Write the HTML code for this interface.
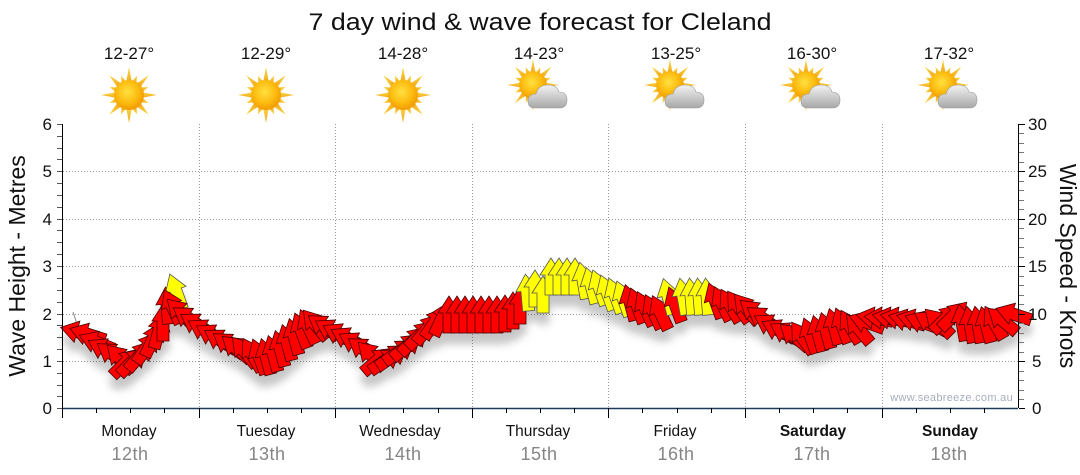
<!DOCTYPE html>
<html><head><meta charset="utf-8"><style>
html,body{margin:0;padding:0;background:#fff;}
svg{display:block;font-family:"Liberation Sans",sans-serif;}
</style></head><body>
<svg width="1080" height="475" viewBox="0 0 1080 475" xmlns="http://www.w3.org/2000/svg">
<defs>
<polygon id="a" points="0,-18 11,-1 6,-1 6,19 -6,19 -6,-1 -11,-1"/>
<radialGradient id="sg" cx="45%" cy="40%" r="60%"><stop offset="0" stop-color="#ffe040"/><stop offset="0.6" stop-color="#fcbc10"/><stop offset="1" stop-color="#f29a00"/></radialGradient>
<linearGradient id="rg" x1="0" y1="0" x2="0" y2="1"><stop offset="0" stop-color="#fbd84a"/><stop offset="1" stop-color="#f0a818"/></linearGradient>
<linearGradient id="cg" x1="0" y1="0" x2="0" y2="1"><stop offset="0" stop-color="#f2f2f2"/><stop offset="1" stop-color="#a8a8a8"/></linearGradient>
<g id="sun">
<g fill="url(#rg)">
<polygon points="0,-28 3,-12 -3,-12"/><polygon points="0,28 3,12 -3,12"/>
<polygon points="-28,0 -12,3 -12,-3"/><polygon points="28,0 12,3 12,-3"/>
<polygon points="0,-28 3,-12 -3,-12" transform="rotate(45)"/><polygon points="0,-28 3,-12 -3,-12" transform="rotate(135)"/>
<polygon points="0,-28 3,-12 -3,-12" transform="rotate(225)"/><polygon points="0,-28 3,-12 -3,-12" transform="rotate(315)"/>
<polygon points="0,-21 3,-12 -3,-12" transform="rotate(22.5)"/><polygon points="0,-21 3,-12 -3,-12" transform="rotate(67.5)"/>
<polygon points="0,-21 3,-12 -3,-12" transform="rotate(112.5)"/><polygon points="0,-21 3,-12 -3,-12" transform="rotate(157.5)"/>
<polygon points="0,-21 3,-12 -3,-12" transform="rotate(202.5)"/><polygon points="0,-21 3,-12 -3,-12" transform="rotate(247.5)"/>
<polygon points="0,-21 3,-12 -3,-12" transform="rotate(292.5)"/><polygon points="0,-21 3,-12 -3,-12" transform="rotate(337.5)"/>
</g>
<circle r="15" fill="url(#sg)"/>
</g>
<g id="pc">
<use href="#sun" transform="translate(-7,-8) scale(0.92)"/>
<g fill="url(#cg)" stroke="#9a9a9a" stroke-width="0.6">
<path d="M-5,15 Q-12,15 -12,8 Q-12,1 -4,1 Q-2,-8 8,-8 Q17,-8 19,-1 Q27,-1 27,7 Q27,15 19,15 Z"/>
</g>
</g>
<filter id="sh" x="-10%" y="-30%" width="120%" height="180%"><feDropShadow dx="0" dy="11" stdDeviation="4" flood-color="#000" flood-opacity="0.22"/></filter>
</defs>

<!-- title -->
<text x="540" y="30" font-size="24" text-anchor="middle" fill="#111" textLength="463" lengthAdjust="spacingAndGlyphs">7 day wind &amp; wave forecast for Cleland</text>

<!-- temps -->
<g font-size="17" fill="#111" text-anchor="middle">
<text x="129" y="59">12-27°</text>
<text x="266" y="59">12-29°</text>
<text x="403" y="59">14-28°</text>
<text x="539" y="59">14-23°</text>
<text x="676" y="59">13-25°</text>
<text x="812" y="59">16-30°</text>
<text x="949" y="59">17-32°</text>
</g>
<!-- icons -->
<use href="#sun" transform="translate(129,95)"/>
<use href="#sun" transform="translate(266,95)"/>
<use href="#sun" transform="translate(403,95)"/>
<use href="#pc" transform="translate(540,93)"/>
<use href="#pc" transform="translate(677,93)"/>
<use href="#pc" transform="translate(813,93)"/>
<use href="#pc" transform="translate(950,93)"/>

<!-- gridlines -->
<g stroke="#999" stroke-width="1" stroke-dasharray="1,2">
<line x1="63" y1="171.5" x2="1018" y2="171.5"/>
<line x1="63" y1="219.5" x2="1018" y2="219.5"/>
<line x1="63" y1="266.5" x2="1018" y2="266.5"/>
<line x1="63" y1="314.5" x2="1018" y2="314.5"/>
<line x1="63" y1="361.5" x2="1018" y2="361.5"/>
<line x1="199.5" y1="124" x2="199.5" y2="408"/>
<line x1="335.5" y1="124" x2="335.5" y2="408"/>
<line x1="472.5" y1="124" x2="472.5" y2="408"/>
<line x1="608.5" y1="124" x2="608.5" y2="408"/>
<line x1="745.5" y1="124" x2="745.5" y2="408"/>
<line x1="882.5" y1="124" x2="882.5" y2="408"/>
</g>

<!-- watermark -->
<text x="1013" y="401" font-size="11" fill="#a8aebc" text-anchor="end" letter-spacing="0.3">www.seabreeze.com.au</text>

<!-- faint line -->
<line x1="73" y1="312" x2="79" y2="330" stroke="#888" stroke-width="1"/>

<!-- arrows -->
<g filter="url(#sh)" stroke="#4a0000" stroke-width="0.8" stroke-linejoin="miter">
<g fill="#ff0000">
<use href="#a" transform="translate(78,332) rotate(-75)"/>
<use href="#a" transform="translate(87,334) rotate(-72)"/>
<use href="#a" transform="translate(96,342) rotate(-68)"/>
<use href="#a" transform="translate(104,349) rotate(-62)"/>
<use href="#a" transform="translate(112,354) rotate(-55)"/>
<use href="#a" transform="translate(120,358) rotate(-45)"/>
<use href="#a" transform="translate(126,362) rotate(45)"/>
<use href="#a" transform="translate(133,361) rotate(45)"/>
<use href="#a" transform="translate(140,355) rotate(40)"/>
<use href="#a" transform="translate(147,347) rotate(35)"/>
<use href="#a" transform="translate(153,339) rotate(25)"/>
<use href="#a" transform="translate(159,330) rotate(15)"/>
<use href="#a" transform="translate(163,322) rotate(0)"/>
<use href="#a" transform="translate(167,305) rotate(-5)"/>
</g>
<use href="#a" transform="translate(176,291) rotate(-20)" fill="#ffff00" stroke="#555"/>
<g fill="#ff0000">
<use href="#a" transform="translate(172,306) rotate(-25)"/>
<use href="#a" transform="translate(180,312) rotate(-45)"/>
<use href="#a" transform="translate(188,318) rotate(-55)"/>
<use href="#a" transform="translate(196,324) rotate(-58)"/>
<use href="#a" transform="translate(204,330) rotate(-60)"/>
<use href="#a" transform="translate(212,335) rotate(-60)"/>
<use href="#a" transform="translate(220,340) rotate(-58)"/>
<use href="#a" transform="translate(228,344) rotate(-55)"/>
<use href="#a" transform="translate(236,348) rotate(-50)"/>
<use href="#a" transform="translate(244,351) rotate(-40)"/>
<use href="#a" transform="translate(252,354) rotate(-30)"/>
<use href="#a" transform="translate(259,356) rotate(-20)"/>
<use href="#a" transform="translate(266,356) rotate(-15)"/>
<use href="#a" transform="translate(273,353) rotate(-15)"/>
<use href="#a" transform="translate(280,348) rotate(-15)"/>
<use href="#a" transform="translate(287,342) rotate(-15)"/>
<use href="#a" transform="translate(294,336) rotate(-15)"/>
<use href="#a" transform="translate(301,330) rotate(-20)"/>
<use href="#a" transform="translate(308,326) rotate(-25)"/>
<use href="#a" transform="translate(315,324) rotate(-40)"/>
<use href="#a" transform="translate(323,326) rotate(-55)"/>
<use href="#a" transform="translate(331,330) rotate(-60)"/>
<use href="#a" transform="translate(339,334) rotate(-62)"/>
<use href="#a" transform="translate(347,338) rotate(-62)"/>
<use href="#a" transform="translate(355,343) rotate(-60)"/>
<use href="#a" transform="translate(363,349) rotate(-55)"/>
<use href="#a" transform="translate(371,355) rotate(-45)"/>
<use href="#a" transform="translate(378,360) rotate(50)"/>
<use href="#a" transform="translate(386,360) rotate(55)"/>
<use href="#a" transform="translate(393,356) rotate(55)"/>
<use href="#a" transform="translate(400,351) rotate(55)"/>
<use href="#a" transform="translate(407,346) rotate(50)"/>
<use href="#a" transform="translate(414,340) rotate(45)"/>
<use href="#a" transform="translate(421,334) rotate(45)"/>
<use href="#a" transform="translate(428,328) rotate(40)"/>
<use href="#a" transform="translate(435,322) rotate(35)"/>
<use href="#a" transform="translate(442,318) rotate(25)"/>
<use href="#a" transform="translate(449,314) rotate(0)"/>
<use href="#a" transform="translate(457,314) rotate(0)"/>
<use href="#a" transform="translate(465,314) rotate(0)"/>
<use href="#a" transform="translate(473,314) rotate(0)"/>
<use href="#a" transform="translate(481,314) rotate(0)"/>
<use href="#a" transform="translate(489,314) rotate(0)"/>
<use href="#a" transform="translate(497,314) rotate(0)"/>
<use href="#a" transform="translate(505,313) rotate(0)"/>
<use href="#a" transform="translate(513,310) rotate(0)"/>
<use href="#a" transform="translate(520,305) rotate(0)"/>
</g>
<g fill="#ffff00" stroke="#555">
<use href="#a" transform="translate(527,292) rotate(-5)"/>
<use href="#a" transform="translate(535,288) rotate(0)"/>
<use href="#a" transform="translate(543,294) rotate(0)"/>
<use href="#a" transform="translate(551,276) rotate(0)"/>
<use href="#a" transform="translate(559,276) rotate(0)"/>
<use href="#a" transform="translate(567,276) rotate(0)"/>
<use href="#a" transform="translate(575,276) rotate(0)"/>
<use href="#a" transform="translate(583,280) rotate(-10)"/>
<use href="#a" transform="translate(591,285) rotate(-15)"/>
<use href="#a" transform="translate(599,287) rotate(-20)"/>
<use href="#a" transform="translate(607,292) rotate(-20)"/>
<use href="#a" transform="translate(615,295) rotate(-20)"/>
<use href="#a" transform="translate(623,298) rotate(-20)"/>
</g>
<g fill="#ff0000">
<use href="#a" transform="translate(630,302) rotate(-15)"/>
<use href="#a" transform="translate(637,305) rotate(-20)"/>
<use href="#a" transform="translate(645,308) rotate(-25)"/>
<use href="#a" transform="translate(653,311) rotate(-25)"/>
<use href="#a" transform="translate(660,312) rotate(-25)"/>
</g>
<use href="#a" transform="translate(668,296) rotate(-15)" fill="#ffff00" stroke="#555"/>
<use href="#a" transform="translate(675,304) rotate(-20)" fill="#ff0000"/>
<g fill="#ffff00" stroke="#555">
<use href="#a" transform="translate(683,296) rotate(-10)"/>
<use href="#a" transform="translate(691,296) rotate(-5)"/>
<use href="#a" transform="translate(699,296) rotate(-5)"/>
<use href="#a" transform="translate(707,296) rotate(-5)"/>
</g>
<g fill="#ff0000">
<use href="#a" transform="translate(715,300) rotate(-20)"/>
<use href="#a" transform="translate(722,303) rotate(-25)"/>
<use href="#a" transform="translate(730,305) rotate(-30)"/>
<use href="#a" transform="translate(738,306) rotate(-35)"/>
<use href="#a" transform="translate(746,308) rotate(-40)"/>
<use href="#a" transform="translate(754,312) rotate(-50)"/>
<use href="#a" transform="translate(762,318) rotate(-55)"/>
<use href="#a" transform="translate(770,325) rotate(-60)"/>
<use href="#a" transform="translate(778,330) rotate(-62)"/>
<use href="#a" transform="translate(786,333) rotate(-60)"/>
<use href="#a" transform="translate(794,336) rotate(-50)"/>
<use href="#a" transform="translate(802,337) rotate(-35)"/>
<use href="#a" transform="translate(810,335) rotate(-20)"/>
<use href="#a" transform="translate(818,333) rotate(-15)"/>
<use href="#a" transform="translate(826,330) rotate(-15)"/>
<use href="#a" transform="translate(834,326) rotate(-15)"/>
<use href="#a" transform="translate(842,325) rotate(-20)"/>
<use href="#a" transform="translate(850,326) rotate(-30)"/>
<use href="#a" transform="translate(858,328) rotate(-40)"/>
<use href="#a" transform="translate(866,322) rotate(-70)"/>
<use href="#a" transform="translate(874,318) rotate(-80)"/>
<use href="#a" transform="translate(882,318) rotate(-85)"/>
<use href="#a" transform="translate(890,318) rotate(-80)"/>
<use href="#a" transform="translate(898,318) rotate(-80)"/>
<use href="#a" transform="translate(906,320) rotate(-75)"/>
<use href="#a" transform="translate(914,320) rotate(-75)"/>
<use href="#a" transform="translate(922,322) rotate(-70)"/>
<use href="#a" transform="translate(930,322) rotate(-60)"/>
<use href="#a" transform="translate(938,322) rotate(-45)"/>
<use href="#a" transform="translate(946,318) rotate(45)"/>
<use href="#a" transform="translate(954,315) rotate(45)"/>
<use href="#a" transform="translate(962,322) rotate(-10)"/>
<use href="#a" transform="translate(970,324) rotate(-10)"/>
<use href="#a" transform="translate(978,324) rotate(-10)"/>
<use href="#a" transform="translate(986,324) rotate(-15)"/>
<use href="#a" transform="translate(994,322) rotate(-30)"/>
<use href="#a" transform="translate(1002,320) rotate(-50)"/>
<use href="#a" transform="translate(1013,314) rotate(-72)"/>
</g>
</g>

<!-- left axis -->
<line x1="62.5" y1="124" x2="62.5" y2="418" stroke="#000" stroke-width="1"/>
<g stroke="#555" stroke-width="1">
<path d="M57,124.5H62 M57,136.5H62 M57,148.5H62 M57,159.5H62 M57,171.5H62 M57,183.5H62 M57,195.5H62 M57,207.5H62 M57,219.5H62 M57,230.5H62 M57,242.5H62 M57,254.5H62 M57,266.5H62 M57,278.5H62 M57,290.5H62 M57,302.5H62 M57,314.5H62 M57,325.5H62 M57,337.5H62 M57,349.5H62 M57,361.5H62 M57,373.5H62 M57,385.5H62 M57,396.5H62 M57,408.5H62"/>
</g>
<g font-size="17" fill="#111" text-anchor="end">
<text x="52" y="130">6</text>
<text x="52" y="177">5</text>
<text x="52" y="225">4</text>
<text x="52" y="272">3</text>
<text x="52" y="320">2</text>
<text x="52" y="367">1</text>
<text x="52" y="414">0</text>
</g>
<text transform="translate(25,266) rotate(-90)" font-size="23" text-anchor="middle" fill="#111">Wave Height - Metres</text>

<!-- right axis -->
<line x1="1018.5" y1="124" x2="1018.5" y2="408" stroke="#000" stroke-width="1"/>
<g stroke="#777" stroke-width="1">
<path d="M1019,133.5H1024 M1019,143.5H1024 M1019,152.5H1024 M1019,162.5H1024 M1019,181.5H1024 M1019,190.5H1024 M1019,200.5H1024 M1019,209.5H1024 M1019,228.5H1024 M1019,238.5H1024 M1019,247.5H1024 M1019,257.5H1024 M1019,276.5H1024 M1019,285.5H1024 M1019,295.5H1024 M1019,304.5H1024 M1019,323.5H1024 M1019,333.5H1024 M1019,342.5H1024 M1019,352.5H1024 M1019,371.5H1024 M1019,380.5H1024 M1019,390.5H1024 M1019,399.5H1024"/>
</g>
<g stroke="#000" stroke-width="1">
<path d="M1019,124.5H1025 M1019,171.5H1025 M1019,219.5H1025 M1019,266.5H1025 M1019,314.5H1025 M1019,361.5H1025 M1019,408.5H1025"/>
</g>
<g font-size="17" fill="#111" text-anchor="start">
<text x="1028" y="130">30</text>
<text x="1028" y="177">25</text>
<text x="1028" y="225">20</text>
<text x="1028" y="272">15</text>
<text x="1028" y="320">10</text>
<text x="1032" y="367">5</text>
<text x="1032" y="414">0</text>
</g>
<text transform="translate(1060,266) rotate(90)" font-size="23" text-anchor="middle" fill="#111">Wind Speed - Knots</text>

<!-- bottom axis -->
<line x1="62" y1="408.5" x2="1018" y2="408.5" stroke="#1d3c5a" stroke-width="1.5"/>
<g stroke="#000" stroke-width="1">
<path d="M62.5,408V418 M199.5,408V418 M335.5,408V418 M472.5,408V418 M608.5,408V418 M745.5,408V418 M882.5,408V418"/>
<path d="M96.5,408V413 M130.5,408V413 M164.5,408V413 M233.5,408V413 M267.5,408V413 M301.5,408V413 M369.5,408V413 M403.5,408V413 M438.5,408V413 M506.5,408V413 M540.5,408V413 M574.5,408V413 M642.5,408V413 M677.5,408V413 M711.5,408V413 M779.5,408V413 M813.5,408V413 M847.5,408V413 M916.5,408V413 M950.5,408V413 M984.5,408V413"/>
</g>
<g font-size="15.5" fill="#111" text-anchor="middle">
<text x="129" y="436">Monday</text>
<text x="266" y="436">Tuesday</text>
<text x="400" y="436">Wednesday</text>
<text x="538" y="436">Thursday</text>
<text x="675" y="436">Friday</text>
<text x="813" y="436" font-weight="bold">Saturday</text>
<text x="950" y="436" font-weight="bold">Sunday</text>
</g>
<g font-size="18" fill="#858585" text-anchor="middle" letter-spacing="0.5">
<text x="130" y="460">12th</text>
<text x="267" y="460">13th</text>
<text x="403" y="460">14th</text>
<text x="539" y="460">15th</text>
<text x="676" y="460">16th</text>
<text x="812" y="460">17th</text>
<text x="949" y="460">18th</text>
</g>
</svg>
</body></html>
